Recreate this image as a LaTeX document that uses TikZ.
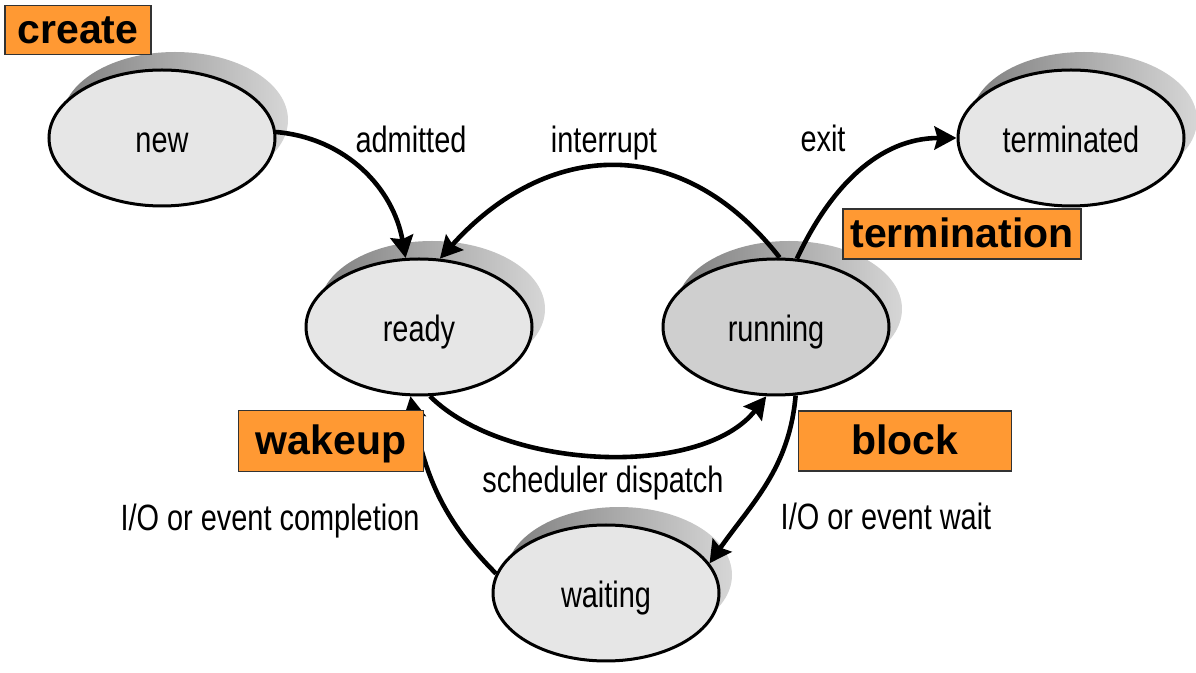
\documentclass[tikz,border=0pt]{standalone}
\usepackage{fontspec}
\setmainfont{Liberation Sans}
\newfontfamily\narrowsans{Liberation Sans}[FakeStretch=0.79]
\usepackage{tikz}
\usetikzlibrary{shapes.geometric}
\usetikzlibrary{arrows.meta}
\usetikzlibrary{shadows,positioning}
\definecolor{tagorange}{HTML}{FF9933}
\definecolor{procfill}{HTML}{E6E6E6}
\definecolor{runfill}{HTML}{CFCFCF}
\definecolor{shadedark}{HTML}{7F7F7F}
\definecolor{shadelight}{HTML}{D6D6D6}
\tikzset{
	proc/.style={ellipse, draw, line width=1.5pt, fill=procfill, minimum width=113pt, minimum height=68pt, inner sep=0pt,
		font=\narrowsans\fontsize{18.3}{20}\selectfont, text height=15pt, text depth=0pt,
		general shadow={left color=shadedark, right color=shadelight, shadow xshift=6.5pt, shadow yshift=9pt}},
	lbl/.style={font=\narrowsans\fontsize{18.3}{20}\selectfont, anchor=base, inner sep=0pt},
	tag/.style={draw=black!80, line width=0.7pt, fill=tagorange, inner sep=0pt,
		font=\fontsize{20.5}{22}\selectfont\bfseries, text height=14pt, text depth=0pt},
	arr/.style={line width=2.3pt, -{Stealth[length=11pt, width=11.5pt, inset=1.5pt]}}
}

\begin{document}
\begin{tikzpicture}[x=0.5pt, y=0.5pt]
	\useasboundingbox (0,0) rectangle (1196,-673);
	% states
	\node[proc] (new) at (162,-138) {new};
	\node[proc] (ready) at (419,-327) {ready};
	\node[proc, fill=runfill] (running) at (776,-327) {running};
	\node[proc] (terminated) at (1071,-138) {terminated};
	\node[proc] (waiting) at (606,-593) {waiting};
	% transitions
	\draw [arr] (new.3) to[out=-5, in=100] (ready.101);
	\draw [arr] (running.87) to[out=128, in=48, looseness=1.2] (ready.73);
	\draw [arr] (running.73) to[out=65, in=180] (terminated.west);
	\draw [arr] (ready.279) to[out=-45, in=-128, looseness=0.8] (running.262);
	\draw [arr] (running.286) to[out=-95, in=55] (waiting.16);
	\draw [arr] (waiting.170) to[out=135, in=-80] (ready.263);
	\node[lbl] (admitted) at (411,-153) {admitted};
	\node[lbl] (interrupt) at (604,-153) {interrupt};
	\node[lbl] (exit) at (823,-152) {exit};
	\node[lbl] (dispatch) at (603,-493) {scheduler dispatch};
	\node[lbl] (completion) at (270,-531) {I/O or event completion};
	\node[lbl] (eventwait) at (886,-530) {I/O or event wait};
	% system calls
	\node[tag, minimum width=73pt, minimum height=24.5pt] (create) at (78,-30) {create};
	\node[tag, minimum width=119pt, minimum height=25pt] (termination) at (962,-234) {termination};
	\node[tag, minimum width=92.5pt, minimum height=30.5pt] (wakeup) at (331,-441) {wakeup};
	\node[tag, minimum width=106.5pt, minimum height=30pt] (block) at (905,-441) {block};
\end{tikzpicture}
\end{document}
